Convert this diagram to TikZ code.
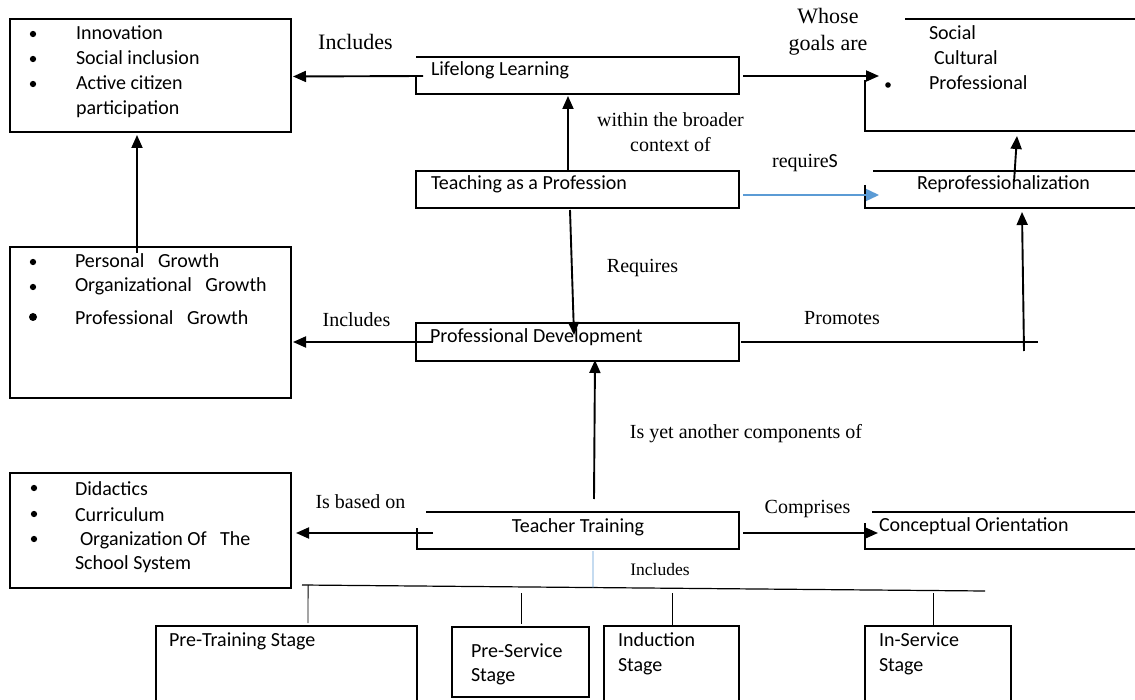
\documentclass[tikz,border=0pt]{standalone}
\usepackage{fontspec}
\setmainfont{Liberation Serif}
\newfontfamily\calibri{Carlito}
\usetikzlibrary{arrows.meta,calc}
\definecolor{arrblue}{RGB}{91,155,213}
\begin{document}
\begin{tikzpicture}[x=1pt,y=-1pt,
  every node/.style={inner sep=0pt,outer sep=0pt},
  frame/.style={draw,line width=1.3pt},
  hidden/.style={draw=none},
  edge/.style={line width=1.3pt},
  arr/.style={line width=1.9pt,-{Triangle[length=13pt,width=11pt]}},
  barr/.style={line width=1.5pt,draw=arrblue,-{Triangle[length=13pt,width=12pt,fill=arrblue]}},
  ln/.style={line width=1.9pt},
  thin/.style={line width=0.8pt},
  st/.style={font=\calibri\fontsize{20}{24}\selectfont,anchor=base west},
  stc/.style={font=\calibri\fontsize{20}{24}\selectfont,anchor=base},
  lb/.style={font=\fontsize{20}{25}\selectfont,anchor=base},
  lbb/.style={font=\fontsize{22}{27}\selectfont,anchor=base},
  dot/.style={circle,fill=black,minimum size=6.3pt},
  bigdot/.style={circle,fill=black,minimum size=8pt},
  smalldot/.style={circle,fill=black,minimum size=5.6pt}]
\useasboundingbox (0,0) rectangle (1135,700);
\fill[white] (0,0) rectangle (1135,700);

% ---------- boxes ----------
\node[frame,minimum width=281pt,minimum height=113pt] (a) at (150.5,75.5) {};
\node[frame,minimum width=281pt,minimum height=151pt] (b) at (150.5,322.5) {};
\node[frame,minimum width=281pt,minimum height=115pt] (c) at (150.5,530.5) {};
\node[hidden,minimum width=323pt,minimum height=37pt] (ll) at (577.5,75.5) {};
\node[frame,minimum width=323pt,minimum height=37pt] (tp) at (577.5,189.5) {};
\node[frame,minimum width=323pt,minimum height=38pt] (pd) at (577.5,342) {};
\node[hidden,minimum width=322pt,minimum height=37pt] (tt) at (578,530.5) {};
\node[hidden,minimum width=270pt,minimum height=112pt] (goals) at (1000,75) {};
\node[hidden,minimum width=270pt,minimum height=37pt] (reprof) at (1000,189.5) {};
\node[hidden,minimum width=270pt,minimum height=37pt] (conc) at (1000,530.5) {};
\node[hidden,minimum width=261pt,minimum height=74pt] (pretr) at (286.5,663) {};
\node[frame,minimum width=137pt,minimum height=70pt] (presv) at (520.5,662) {};
\node[hidden,minimum width=135pt,minimum height=74pt] (induc) at (671.5,663) {};
\node[hidden,minimum width=146pt,minimum height=74pt] (insv) at (938,663) {};

% partial outlines
\draw[edge] ($(ll.west)+(0,0.5)$) -- (ll.south west) -- (ll.south east) -- (ll.north east) -- (ll.north west);
\draw[edge] ($(tt.north west)+(9,0)$) -- (tt.north east) -- (tt.south east) -- (tt.south west) -- ($(tt.south west)+(0,-21)$);
\draw[edge] ($(goals.north west)+(40,0)$) -- (goals.north east);
\draw[edge] ($(goals.south west)+(0,-51)$) -- (goals.south west) -- (goals.south east);
\draw[edge] ($(reprof.north west)+(8,0)$) -- (reprof.north east);
\draw[edge] ($(reprof.south west)+(0,-23)$) -- (reprof.south west) -- (reprof.south east);
\draw[edge] ($(conc.north west)+(7,0)$) -- (conc.north east);
\draw[edge] ($(conc.south west)+(0,-26)$) -- (conc.south west) -- (conc.south east);
\draw[edge] (pretr.south west) -- (pretr.north west) -- (pretr.north east) -- (pretr.south east);
\draw[edge] (induc.south west) -- (induc.north west) -- (induc.north east) -- (induc.south east);
\draw[edge] (insv.south west) -- (insv.north west) -- (insv.north east) -- (insv.south east);

% ---------- box texts ----------
\node[dot] (a1b) at (33,34) {};
\node[st] (a1) at (76,40) {Innovation};
\node[dot] (a2b) at (33,59) {};
\node[st] (a2) at (76,65) {Social inclusion};
\node[dot] (a3b) at (33,84) {};
\node[st] (a3) at (76,90) {Active citizen};
\node[st] (a4) at (76,115) {participation};

\node[st] (lltx) at (431,76) {Lifelong Learning};
\node[st] (tptx) at (431,190) {Teaching as a Profession};
\node[st] (pdtx) at (430,343) {Professional Development};
\node[stc] (tttx) at (578,532) {Teacher Training};

\node[st] (g1) at (929,40) {Social};
\node[st] (g2) at (934,65) {Cultural};
\node[smalldot] (g3b) at (888,85) {};
\node[st] (g3) at (929,90) {Professional};

\node[st] (rptx) at (917,190) {Reprofessionalization};
\node[st] (cotx) at (879,531) {Conceptual Orientation};

\node[dot] (b1b) at (33,262) {};
\node[st] (b1) at (75,268) {Personal\hspace{9pt} Growth};
\node[dot] (b2b) at (33,287) {};
\node[st] (b2) at (75,292) {Organizational\hspace{9pt} Growth};
\node[bigdot] (b3b) at (33,317) {};
\node[st] (b3) at (75,325) {Professional\hspace{9pt} Growth};

\node[dot] (c1b) at (34,488) {};
\node[st] (c1) at (75,495) {Didactics};
\node[dot] (c2b) at (34,514) {};
\node[st] (c2) at (75,521) {Curriculum};
\node[dot] (c3b) at (34,539) {};
\node[st] (c3) at (80,545) {Organization Of\hspace{9pt} The};
\node[st] (c4) at (75,569) {School System};

\node[st] (s1) at (169,646) {Pre-Training Stage};
\node[st] (s2a) at (471,657) {Pre-Service};
\node[st] (s2b) at (471,681) {Stage};
\node[st] (s3a) at (618,646) {Induction};
\node[st] (s3b) at (618,671) {Stage};
\node[st] (s4a) at (879,646) {In-Service};
\node[st] (s4b) at (879,671) {Stage};

% ---------- connectors ----------
\draw[arr] ($(ll.west)+(7,0.5)$) -- ($(a.east)+(2,1)$);
\draw[arr] ($(ll.east)+(4,0.5)$) -- ($(goals.west)+(14,1)$);
\draw[arr] ($(tp.north)+(-9.5,0)$) -- ($(ll.south)+(-9.5,2)$);
\draw[barr] ($(tp.east)+(4,5.5)$) -- ($(reprof.west)+(14,5.5)$);
\draw[arr] ($(tp.south)+(-7.5,2)$) -- ($(pd.north)+(-3.5,12)$);
\draw[arr] ($(pd.west)+(17,0)$) -- ($(b.east)+(2,19.5)$);
\draw[arr] ($(b.north)+(-13.5,6)$) -- ($(a.south)+(-13.5,3)$);
\coordinate (pe) at (1038,342);
\draw[ln] ($(pd.east)+(2,0)$) -- (pe);
\coordinate (pv) at (1024,351);
\draw[arr] (pv) -- ($(reprof.south)+(22,4)$);
\draw[arr] ($(reprof.north)+(14,11)$) -- ($(goals.south)+(17,5)$);
\draw[arr] ($(tt.north)+(16,-13)$) -- ($(pd.south)+(17.5,-1)$);
\draw[arr] ($(tt.west)+(16,2.5)$) -- ($(c.east)+(5,2.5)$);
\draw[arr] ($(tt.east)+(4,2.5)$) -- ($(conc.west)+(13,2.5)$);

\coordinate (hl) at (302,585);
\coordinate (hr) at (985,591);
\draw[line width=1.2pt] (hl) -- (hr);
\draw[thin,draw=arrblue] ($(tt.south)+(15,2)$) -- ($(hl)!0.426!(hr)$);
\draw[thin] ($(hl)!0.009!(hr)$) -- ($(pretr.north)+(21.5,-3)$);
\coordinate (t2) at (521,593);
\draw[thin] (t2) -- ($(presv.north)+(0.5,-3)$);
\coordinate (t3) at (672,593);
\draw[thin] (t3) -- ($(induc.north)+(0.5,0)$);
\coordinate (t4) at (933,593);
\draw[thin] (t4) -- ($(insv.north)+(-5,0)$);

% ---------- labels ----------
\node[lbb] (l1) at (355.5,50) {Includes};
\node[lbb] (l2a) at (828,24) {Whose};
\node[lbb] (l2b) at (828,51) {goals are};
\node[lb] (l3a) at (670.5,127) {within the broader};
\node[lb] (l3b) at (670.5,152) {context of};
\node[lb] (l4) at (805,168) {require{\calibri S}};
\node[lb] (l5) at (642.5,273) {Requires};
\node[lb] (l6) at (356.5,327) {Includes};
\node[lb] (l7) at (842,325) {Promotes};
\node[lb] (l8) at (746,438) {Is yet another components of};
\node[lb] (l9) at (360.5,508) {Is based on};
\node[lb] (l10) at (807.5,513) {Comprises};
\node[font=\fontsize{17.5}{20}\selectfont,anchor=base] (l11) at (660,575) {Includes};
\end{tikzpicture}
\end{document}
